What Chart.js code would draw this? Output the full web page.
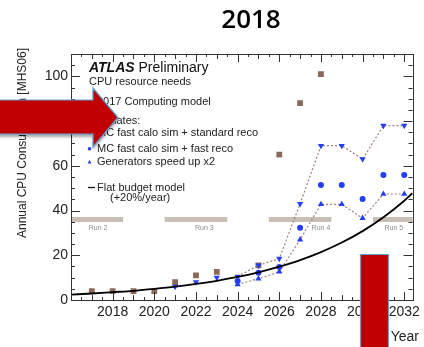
<!DOCTYPE html>
<html>
<head>
<meta charset="utf-8">
<script src="https://cdn.jsdelivr.net/npm/chart.js@4.4.0/dist/chart.umd.min.js"></script>
<style>
  html, body { margin: 0; padding: 0; background: #fff; }
  #wrap { position: relative; width: 424px; height: 347px; }
</style>
</head>
<body>
<div id="wrap"><canvas id="cpu" width="424" height="347"></canvas></div>
<script>
// CPU needs per year
const modelYears = [2017, 2018, 2019, 2020, 2021, 2022, 2023, 2025, 2026, 2027, 2028];
const modelCpu = [4, 4, 4, 4, 8, 11, 12.6, 15.5, 65, 88, 101];

const stdRecoYears = [2021, 2022, 2023, 2024, 2025, 2026, 2027, 2028, 2029, 2030, 2031, 2032];
const stdRecoCpu = [6, 8, 10, 10.5, 15.5, 18.5, 43, 69, 69, 63, 78, 78];

const fastRecoYears = [2024, 2025, 2026, 2027, 2028, 2029, 2030, 2031, 2032];
const fastRecoCpu = [8.5, 12.2, 14.8, 32.3, 51.4, 51.4, 45.2, 55.9, 55.9];

const genYears = [2024, 2025, 2026, 2027, 2028, 2029, 2030, 2031, 2032];
const genCpu = [7, 9.5, 12.6, 27, 42.8, 42.8, 36.6, 47.4, 47.4];

// flat budget (+20%/year)
const budgetYears = [2016, 2017, 2018, 2019, 2020, 2021, 2022, 2023, 2024, 2025, 2026, 2027, 2028, 2029, 2030, 2031, 2032, 2032.4];
const budgetCpu = [2.4, 2.9, 3.5, 4.1, 5.0, 6.0, 7.2, 8.6, 10.3, 12.4, 14.9, 17.8, 21.4, 25.7, 30.8, 37.0, 44.4, 47.8];

// LHC runs
const runNames = ["Run 2", "Run 3", "Run 4", "Run 5"];
const runStart = [2015, 2020.5, 2025.5, 2030.5];
const runEnd = [2018.5, 2023.5, 2028.5, 2034];
const runLabelX = [2017.3, 2022.4, 2028.0, 2031.5];
const runLevel = 36;
const runLabelLevel = 32.3;

const yTicks = [0, 20, 40, 60, 80, 100];
const xTicks = [2018, 2020, 2022, 2024, 2026, 2028, 2030, 2032];

const BROWN = "rgb(140,104,88)";
const BLUE = "rgb(35,62,245)";
const DASH = "rgb(160,128,118)";
const RUNGREY = "rgb(200,190,180)";
const FONT = "'Liberation Sans', Arial, sans-serif";

const pts = (xs, ys) => xs.map((x, i) => ({ x: x, y: ys[i] }));

const runSets = runNames.map((n, i) => ({
  label: n,
  data: [{ x: runStart[i], y: runLevel }, { x: runEnd[i], y: runLevel }],
  borderColor: RUNGREY,
  borderWidth: 5,
  pointRadius: 0,
  showLine: true,
}));

// frame, inward ticks and the extra texts
const decor = {
  id: "decor",
  afterDraw(chart) {
    const ctx = chart.ctx;
    const { left, right, top, bottom } = chart.chartArea;
    const xs = chart.scales.x, ys = chart.scales.y;
    ctx.save();

    // run labels
    ctx.fillStyle = "#8c8c8c";
    ctx.font = "7px " + FONT;
    ctx.textAlign = "center";
    ctx.textBaseline = "middle";
    runNames.forEach((n, i) => {
      ctx.fillText(n, xs.getPixelForValue(runLabelX[i]), ys.getPixelForValue(runLabelLevel));
    });

    // frame
    ctx.strokeStyle = "#333";
    ctx.lineWidth = 1;
    ctx.strokeRect(Math.round(left) + 0.5, Math.round(top) + 0.5, Math.round(right - left), Math.round(bottom - top));

    ctx.beginPath();
    for (let v = 0; v <= 110; v += 5) {
      const y = Math.round(ys.getPixelForValue(v)) + 0.5;
      const len = v % 20 === 0 ? 9 : 4;
      ctx.moveTo(left, y); ctx.lineTo(left + len, y);
      ctx.moveTo(right, y); ctx.lineTo(right - len, y);
    }
    for (let v = 2016; v <= 2032.4; v += 0.5) {
      const x = Math.round(xs.getPixelForValue(v)) + 0.5;
      const len = v % 2 === 0 ? 8 : (v % 1 === 0 ? 5 : 3);
      ctx.moveTo(x, bottom); ctx.lineTo(x, bottom - len);
      ctx.moveTo(x, top); ctx.lineTo(x, top + len);
    }
    ctx.stroke();

    // legend block
    ctx.textAlign = "left";
    ctx.fillStyle = "#111";
    ctx.font = "italic bold 14px " + FONT;
    ctx.fillText("ATLAS", 89, 68);
    const w = ctx.measureText("ATLAS ").width;
    ctx.font = "14px " + FONT;
    ctx.fillText("Preliminary", 89 + w, 68);
    ctx.font = "11px " + FONT;
    ctx.fillStyle = "#222";
    ctx.fillText("CPU resource needs", 89, 82);
    ctx.fillText("2017 Computing model", 97, 102);
    ctx.fillText("Estimates:", 89, 121);
    ctx.fillText("MC fast calo sim + standard reco", 97, 133);
    ctx.fillText("MC fast calo sim + fast reco", 97, 149);
    ctx.fillText("Generators speed up x2", 97, 162);
    ctx.fillText("Flat budget model", 97, 187.5);
    ctx.fillText("(+20%/year)", 110, 198);

    ctx.fillStyle = BROWN;
    ctx.fillRect(87.5, 100, 3.5, 3.5);
    ctx.fillStyle = BLUE;
    ctx.beginPath();
    ctx.moveTo(87.5, 131.5); ctx.lineTo(91.5, 131.5); ctx.lineTo(89.5, 135); ctx.closePath(); ctx.fill();
    ctx.beginPath(); ctx.arc(89.5, 148.7, 1.8, 0, Math.PI * 2); ctx.fill();
    ctx.beginPath();
    ctx.moveTo(87.5, 163.5); ctx.lineTo(91.5, 163.5); ctx.lineTo(89.5, 160); ctx.closePath(); ctx.fill();
    ctx.strokeStyle = "#111";
    ctx.lineWidth = 1.3;
    ctx.beginPath(); ctx.moveTo(88, 187.5); ctx.lineTo(95, 187.5); ctx.stroke();

    // axis titles
    ctx.fillStyle = "#222";
    ctx.font = "14px " + FONT;
    ctx.textAlign = "right";
    ctx.fillText("Year", 419, 337);
    ctx.save();
    ctx.translate(23, 143);
    ctx.rotate(-Math.PI / 2);
    ctx.textAlign = "center";
    ctx.font = "12px " + FONT;
    ctx.fillText("Annual CPU Consumption [MHS06]", 0, 0);
    ctx.restore();

    // slide title
    ctx.fillStyle = "#000";
    ctx.font = "600 26px 'Open Sans', sans-serif";
    ctx.textAlign = "center";
    ctx.textBaseline = "alphabetic";
    ctx.fillText("2018", 251, 28);

    // red callouts
    ctx.fillStyle = "#c00000";
    ctx.strokeStyle = "#5fa3cf";
    ctx.lineWidth = 1.2;
    ctx.shadowColor = "rgba(0,0,0,0.35)";
    ctx.shadowOffsetY = 3;
    ctx.shadowBlur = 3;
    ctx.beginPath();
    ctx.moveTo(-2, 100); ctx.lineTo(93, 100); ctx.lineTo(93, 88);
    ctx.lineTo(118, 117.5);
    ctx.lineTo(93, 147); ctx.lineTo(93, 134); ctx.lineTo(-2, 134);
    ctx.closePath();
    ctx.fill();
    ctx.shadowColor = "transparent";
    ctx.stroke();

    ctx.beginPath();
    ctx.rect(360.5, 254.5, 28, 100);
    ctx.fill();
    ctx.stroke();
    ctx.restore();
  }
};

new Chart(document.getElementById("cpu"), {
  type: "scatter",
  data: {
    datasets: [
      {
        label: "Flat budget model",
        data: pts(budgetYears, budgetCpu),
        showLine: true,
        borderColor: "#000",
        borderWidth: 1.8,
        pointRadius: 0,
        cubicInterpolationMode: "monotone",
      },
      {
        label: "MC fast calo sim + standard reco",
        data: pts(stdRecoYears, stdRecoCpu),
        showLine: true,
        borderColor: DASH,
        borderWidth: 1.2,
        borderDash: [2, 2],
        segment: {
          borderColor: (c) => (c.p0.parsed.x < 2024 ? "rgba(0,0,0,0)" : DASH),
        },
        pointStyle: "triangle",
        rotation: 180,
        pointRadius: 3.6,
        pointBackgroundColor: BLUE,
        pointBorderColor: BLUE,
        pointBorderWidth: 0,
      },
      {
        label: "MC fast calo sim + fast reco",
        data: pts(fastRecoYears, fastRecoCpu),
        pointStyle: "circle",
        pointRadius: 3,
        pointBackgroundColor: BLUE,
        pointBorderColor: BLUE,
        pointBorderWidth: 0,
      },
      {
        label: "Generators speed up x2",
        data: pts(genYears, genCpu),
        showLine: true,
        borderColor: DASH,
        borderWidth: 1.2,
        borderDash: [2, 2],
        pointStyle: "triangle",
        pointRadius: 3.6,
        pointBackgroundColor: BLUE,
        pointBorderColor: BLUE,
        pointBorderWidth: 0,
      },
      {
        label: "2017 Computing model",
        data: pts(modelYears, modelCpu),
        pointStyle: "rect",
        pointRadius: 4.1,
        pointBackgroundColor: BROWN,
        pointBorderColor: BROWN,
        pointBorderWidth: 0,
      },
      ...runSets,
    ],
  },
  options: {
    responsive: false,
    animation: false,
    events: [],
    layout: { padding: { top: 54, right: 7, left: 0, bottom: 0 } },
    plugins: { legend: { display: false }, tooltip: { enabled: false } },
    scales: {
      x: {
        type: "linear",
        min: 2016,
        max: 2032.4,
        grid: { display: false, drawTicks: false },
        border: { display: false },
        afterBuildTicks: (s) => { s.ticks = xTicks.map((v) => ({ value: v })); },
        afterFit: (s) => { s.height = 47; },
        ticks: {
          padding: 4,
          color: "#222",
          font: { family: FONT, size: 14 },
          callback: (v) => String(v),
          maxRotation: 0,
        },
      },
      y: {
        min: 0,
        max: 110,
        grid: { display: false, drawTicks: false },
        border: { display: false },
        afterBuildTicks: (s) => { s.ticks = yTicks.map((v) => ({ value: v })); },
        afterFit: (s) => { s.width = 71; },
        ticks: {
          padding: 3,
          color: "#222",
          font: { family: FONT, size: 14 },
          callback: (v) => String(v),
        },
      },
    },
  },
  plugins: [decor],
});
</script>
</body>
</html>
